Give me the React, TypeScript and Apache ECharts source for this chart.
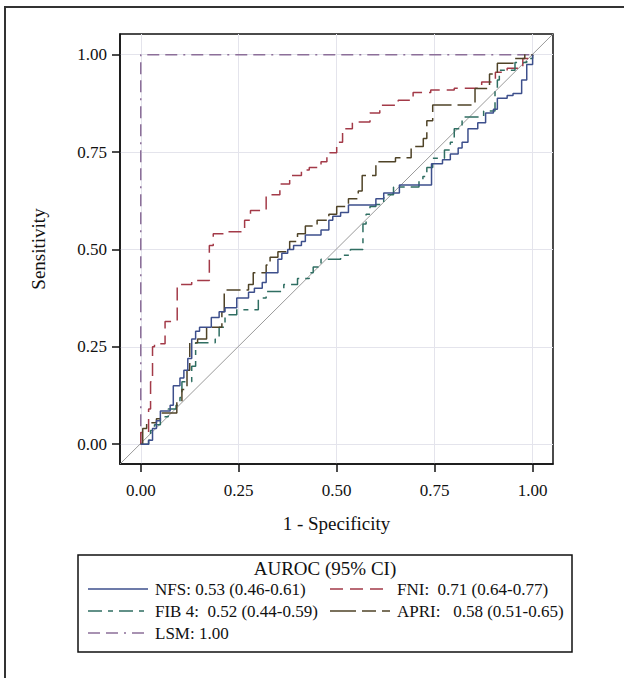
import React, { useEffect, useRef } from "react";
import * as echarts from "echarts";

const tickValues = [0, 0.25, 0.5, 0.75, 1];
const X_MIN = -0.053;
const X_MAX = 1.052;
const Y_MIN = -0.051;
const Y_MAX = 1.053;

const nfsFpr = [0, 0.02, 0.03, 0.04, 0.05, 0.075, 0.083, 0.1, 0.11, 0.12, 0.13, 0.14, 0.15, 0.18, 0.2, 0.215, 0.245, 0.275, 0.29, 0.31, 0.32, 0.35, 0.36, 0.375, 0.39, 0.41, 0.42, 0.46, 0.48, 0.49, 0.51, 0.53, 0.6, 0.62, 0.66, 0.742, 0.77, 0.79, 0.81, 0.82, 0.835, 0.86, 0.88, 0.9, 0.91, 0.935, 0.95, 0.972, 0.985, 1];
const nfsTpr = [0, 0.01, 0.04, 0.06, 0.085, 0.1, 0.15, 0.17, 0.19, 0.22, 0.27, 0.29, 0.3, 0.325, 0.34, 0.35, 0.375, 0.39, 0.4, 0.415, 0.44, 0.475, 0.49, 0.5, 0.51, 0.52, 0.537, 0.55, 0.575, 0.585, 0.595, 0.614, 0.63, 0.645, 0.665, 0.72, 0.73, 0.745, 0.76, 0.775, 0.81, 0.825, 0.85, 0.86, 0.888, 0.895, 0.9, 0.935, 0.975, 1];

const fniFpr = [0, 0, 0.02, 0.025, 0.03, 0.035, 0.062, 0.093, 0.13, 0.175, 0.185, 0.215, 0.265, 0.28, 0.32, 0.355, 0.38, 0.41, 0.43, 0.46, 0.475, 0.5, 0.515, 0.54, 0.585, 0.61, 0.657, 0.695, 0.74, 0.8, 0.87, 0.905, 0.935, 0.975, 1];
const fniTpr = [0, 0.03, 0.09, 0.16, 0.25, 0.258, 0.315, 0.41, 0.42, 0.51, 0.54, 0.545, 0.575, 0.6, 0.64, 0.668, 0.69, 0.704, 0.71, 0.725, 0.748, 0.775, 0.81, 0.827, 0.85, 0.87, 0.883, 0.903, 0.909, 0.914, 0.93, 0.955, 0.965, 0.99, 1];

const fib4Fpr = [0, 0.02, 0.025, 0.035, 0.05, 0.07, 0.09, 0.1, 0.105, 0.13, 0.14, 0.19, 0.2, 0.215, 0.245, 0.3, 0.32, 0.365, 0.4, 0.43, 0.44, 0.46, 0.51, 0.535, 0.567, 0.575, 0.585, 0.6, 0.62, 0.645, 0.71, 0.72, 0.73, 0.745, 0.775, 0.79, 0.8, 0.82, 0.875, 0.904, 0.91, 0.915, 0.955, 0.985, 1];
const fib4Tpr = [0, 0.01, 0.035, 0.05, 0.07, 0.09, 0.1, 0.12, 0.16, 0.2, 0.26, 0.27, 0.3, 0.332, 0.345, 0.375, 0.392, 0.41, 0.425, 0.44, 0.455, 0.475, 0.485, 0.5, 0.565, 0.59, 0.61, 0.615, 0.64, 0.66, 0.675, 0.687, 0.71, 0.734, 0.755, 0.775, 0.81, 0.84, 0.855, 0.909, 0.935, 0.96, 0.98, 0.99, 1];

const apriFpr = [0, 0.005, 0.015, 0.04, 0.05, 0.092, 0.105, 0.118, 0.125, 0.145, 0.168, 0.207, 0.213, 0.275, 0.287, 0.32, 0.33, 0.35, 0.38, 0.4, 0.42, 0.45, 0.48, 0.5, 0.53, 0.555, 0.565, 0.6, 0.65, 0.69, 0.721, 0.73, 0.745, 0.853, 0.89, 0.91, 0.95, 0.98, 1];
const apriTpr = [0, 0.04, 0.055, 0.065, 0.08, 0.11, 0.14, 0.19, 0.26, 0.27, 0.3, 0.34, 0.396, 0.41, 0.44, 0.46, 0.48, 0.494, 0.52, 0.54, 0.56, 0.575, 0.59, 0.61, 0.63, 0.65, 0.69, 0.725, 0.735, 0.764, 0.785, 0.83, 0.871, 0.913, 0.95, 0.978, 0.99, 1, 1];

const lsmFpr = [0, 0, 1];
const lsmTpr = [0, 1, 1];

const legendTitle = "AUROC (95% CI)";
const legendLabels = [
  "NFS: 0.53 (0.46-0.61)",
  "FNI:  0.71 (0.64-0.77)",
  "FIB 4:  0.52 (0.44-0.59)",
  "APRI:   0.58 (0.51-0.65)",
  "LSM: 1.00",
];

const COLORS = {
  nfs: "#3d4f8c",
  fni: "#a33a48",
  fib4: "#2f6e62",
  apri: "#4f4327",
  lsm: "#8c6f99",
};
const DASH = {
  nfs: "solid" as any,
  fni: [13, 7],
  fib4: [14, 6, 5, 6],
  apri: [26, 6, 14, 6],
  lsm: [12, 6, 12, 6, 2, 6],
};

const zip = (a: number[], b: number[]) => a.map((v, i) => [v, b[i]]);
const FONT = "'Liberation Serif', 'Times New Roman', serif";

export default function App() {
  const ref = useRef<HTMLDivElement>(null);
  useEffect(() => {
    document.body.style.margin = "0";
    const chart = echarts.init(ref.current!, null, { renderer: "svg" });
    const stepSeries = (name: string, fpr: number[], tpr: number[], key: keyof typeof COLORS, z: number) => ({
      name,
      type: "line",
      step: "end",
      symbol: "none",
      z,
      data: zip(fpr, tpr),
      lineStyle: { color: COLORS[key], width: 1.5, type: DASH[key] },
    });
    const legendRows = [
      { key: "nfs", x: 88, y: 589, label: legendLabels[0] },
      { key: "fni", x: 330, y: 589, label: legendLabels[1] },
      { key: "fib4", x: 88, y: 611, label: legendLabels[2] },
      { key: "apri", x: 330, y: 611, label: legendLabels[3] },
      { key: "lsm", x: 88, y: 633, label: legendLabels[4] },
    ];
    const graphics: any[] = [
      {
        type: "polyline",
        shape: { points: [[5, 678], [5, 7], [624, 7]] },
        style: { stroke: "#333", lineWidth: 2, fill: "none" },
      },
      {
        type: "rect",
        shape: { x: 78, y: 555, width: 494, height: 97 },
        style: { fill: "none", stroke: "#111", lineWidth: 1.5 },
      },
      {
        type: "text",
        x: 325,
        y: 568,
        style: { text: legendTitle, font: `19px ${FONT}`, fill: "#111", align: "center", verticalAlign: "middle" },
      },
    ];
    legendRows.forEach((r) => {
      const k = r.key as keyof typeof COLORS;
      const dash = DASH[k];
      graphics.push({
        type: "line",
        shape: { x1: r.x, y1: r.y, x2: r.x + 60, y2: r.y },
        style: { stroke: COLORS[k], lineWidth: 1.5, lineDash: Array.isArray(dash) ? dash : null },
      });
      graphics.push({
        type: "text",
        x: r.x + 67,
        y: r.y,
        style: { text: r.label, font: `17px ${FONT}`, fill: "#111", align: "left", verticalAlign: "middle" },
      });
    });

    const axisCommon = {
      type: "value",
      nameLocation: "middle",
      nameTextStyle: { fontFamily: FONT, fontSize: 19, color: "#111" },
      axisLine: { show: true, onZero: false, lineStyle: { color: "#111", width: 1.5 } },
      axisTick: { show: true, length: 8, inside: false, customValues: tickValues, lineStyle: { color: "#111", width: 1.5 } },
      splitLine: { show: true, lineStyle: { color: "#e4e4ec", width: 1 } },
    };
    const labelCommon = {
      customValues: tickValues,
      formatter: (v: number) => v.toFixed(2),
      fontFamily: FONT,
      fontSize: 17,
      color: "#111",
    };

    chart.setOption({
      animation: false,
      backgroundColor: "#ffffff",
      grid: { left: 120, top: 34, width: 433, height: 430, show: true, borderColor: "#111", borderWidth: 1.5, backgroundColor: "transparent" },
      xAxis: { ...axisCommon, axisLabel: { ...labelCommon, margin: 18 }, min: X_MIN, max: X_MAX, name: "1 - Specificity", nameGap: 50 },
      yAxis: { ...axisCommon, axisLabel: { ...labelCommon, margin: 13 }, min: Y_MIN, max: Y_MAX, name: "Sensitivity", nameGap: 72, nameRotate: 90 },
      graphic: graphics,
      series: [
        {
          name: "reference",
          type: "line",
          symbol: "none",
          z: 1,
          data: [[X_MIN, Y_MIN], [X_MAX, Y_MAX]],
          lineStyle: { color: "#9a9a9a", width: 1 },
        },
        stepSeries("LSM", lsmFpr, lsmTpr, "lsm", 2),
        stepSeries("FNI", fniFpr, fniTpr, "fni", 3),
        stepSeries("FIB 4", fib4Fpr, fib4Tpr, "fib4", 4),
        stepSeries("APRI", apriFpr, apriTpr, "apri", 5),
        stepSeries("NFS", nfsFpr, nfsTpr, "nfs", 6),
      ],
    });
    return () => chart.dispose();
  }, []);
  return <div ref={ref} style={{ width: 624, height: 678 }} />;
}
